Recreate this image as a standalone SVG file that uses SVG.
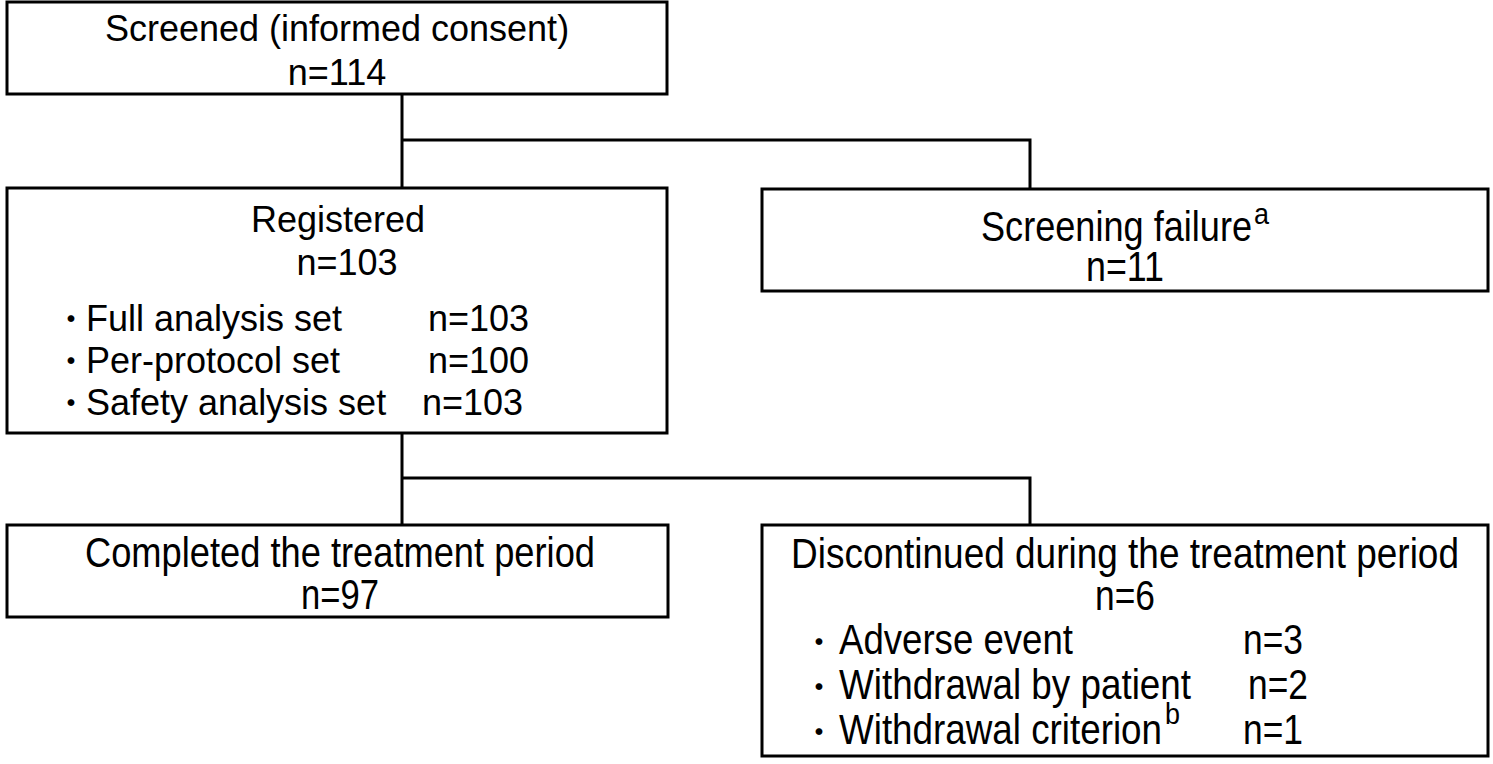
<svg xmlns="http://www.w3.org/2000/svg" width="1493" height="764" viewBox="0 0 1493 764">
<style>
.box{fill:#fff;stroke:#000;stroke-width:3}
.con{fill:none;stroke:#000;stroke-width:3}
.t{font-family:"Liberation Sans",Arial,sans-serif;font-size:36px;fill:#000}
.c{font-family:"Liberation Sans",Arial,sans-serif;font-size:42px;fill:#000}
.sup{font-family:"Liberation Sans",Arial,sans-serif;font-size:30px;fill:#000}
.dot{font-family:"Noto Sans CJK JP","Noto Sans CJK SC",sans-serif;font-size:32px;fill:#000;text-anchor:middle}
.m{text-anchor:middle}
</style>
<rect width="1493" height="764" fill="#fff"/>
<g id="connectors">
<path class="con" d="M402,94 V188 M402,140 H1030 V189"/>
<path class="con" d="M402,433 V525 M402,478 H1030 V525"/>
</g>
<g id="screened">
<rect class="box" x="7" y="2" width="660" height="92"/>
<text class="t m" x="337" y="41">Screened (informed consent)</text>
<text class="t m" x="337" y="85">n=114</text>
</g>
<g id="registered">
<rect class="box" x="7" y="188" width="660" height="245"/>
<text class="t m" x="338" y="232">Registered</text>
<text class="t m" x="347" y="275">n=103</text>
<text class="dot" x="71" y="331">・</text>
<text class="t" x="86" y="331">Full analysis set</text>
<text class="t" x="428" y="331">n=103</text>
<text class="dot" x="71" y="373">・</text>
<text class="t" x="86" y="373">Per-protocol set</text>
<text class="t" x="428" y="373">n=100</text>
<text class="dot" x="71" y="415">・</text>
<text class="t" x="86" y="415">Safety analysis set</text>
<text class="t" x="422" y="415">n=103</text>
</g>
<g id="screening-failure">
<rect class="box" x="762" y="189" width="726" height="102"/>
<text class="c" x="981" y="241" textLength="271" lengthAdjust="spacingAndGlyphs">Screening failure</text>
<text class="sup" x="1254" y="224" textLength="15" lengthAdjust="spacingAndGlyphs">a</text>
<text class="c m" x="1125" y="281" textLength="78" lengthAdjust="spacingAndGlyphs">n=11</text>
</g>
<g id="completed">
<rect class="box" x="7" y="525" width="661" height="92"/>
<text class="c m" x="340" y="567" textLength="510" lengthAdjust="spacingAndGlyphs">Completed the treatment period</text>
<text class="c m" x="340" y="609" textLength="78" lengthAdjust="spacingAndGlyphs">n=97</text>
</g>
<g id="discontinued">
<rect class="box" x="762" y="525" width="726" height="231"/>
<text class="c m" x="1125" y="568" textLength="668" lengthAdjust="spacingAndGlyphs">Discontinued during the treatment period</text>
<text class="c m" x="1125" y="610" textLength="60" lengthAdjust="spacingAndGlyphs">n=6</text>
<text class="dot" x="819" y="654">・</text>
<text class="c" x="839" y="654" textLength="234" lengthAdjust="spacingAndGlyphs">Adverse event</text>
<text class="c" x="1243" y="654" textLength="60" lengthAdjust="spacingAndGlyphs">n=3</text>
<text class="dot" x="819" y="699">・</text>
<text class="c" x="839" y="699" textLength="352" lengthAdjust="spacingAndGlyphs">Withdrawal by patient</text>
<text class="c" x="1248" y="699" textLength="60" lengthAdjust="spacingAndGlyphs">n=2</text>
<text class="dot" x="819" y="744">・</text>
<text class="c" x="839" y="744" textLength="323" lengthAdjust="spacingAndGlyphs">Withdrawal criterion</text>
<text class="sup" x="1165" y="724" textLength="15" lengthAdjust="spacingAndGlyphs">b</text>
<text class="c" x="1243" y="744" textLength="60" lengthAdjust="spacingAndGlyphs">n=1</text>
</g>
</svg>
